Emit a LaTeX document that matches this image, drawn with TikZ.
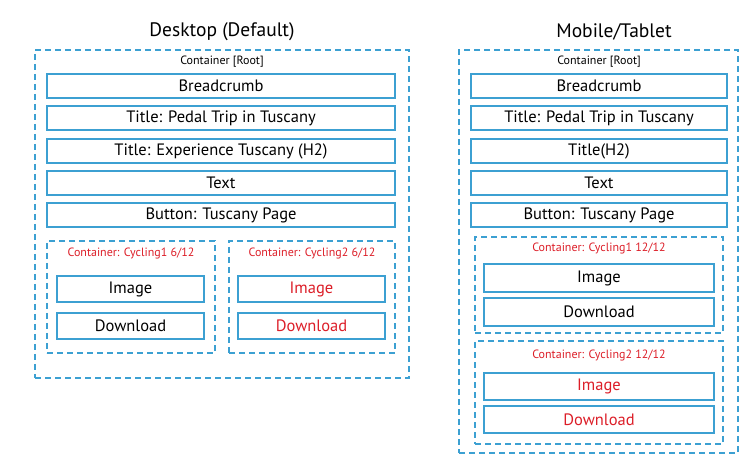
\documentclass[tikz,border=0pt]{standalone}
\usepackage{fontspec}
\setmainfont{PT Sans}
\begin{document}
\begin{tikzpicture}[x=1pt,y=-1pt,
  blu/.style={draw={rgb,255:red,60;green,160;blue,210}},
  box/.style={blu,line width=1.3pt,rectangle,inner sep=0pt,font=\fontsize{16.5}{16.5}\selectfont},
  dbox/.style={blu,line width=1.3pt,dash pattern=on 6pt off 4pt,rectangle,inner sep=0pt},
  lbl/.style={font=\fontsize{12}{12}\selectfont},
  red/.style={text={rgb,255:red,220;green,30;blue,40}},
  ttl/.style={font=\fontsize{19.5}{19.5}\selectfont}]
\useasboundingbox (0,0) rectangle (750,465);
% Desktop
\node[ttl] (t1) at (222,32) {Desktop (Default)};
\node[dbox,minimum width=374pt,minimum height=328pt] (r1) at (222,214) {};
\node[lbl] (r1l) at (222,62) {Container [Root]};
\node[box,minimum width=348pt,minimum height=24pt] (d1) at (221,86) {Breadcrumb};
\node[box,minimum width=348pt,minimum height=24pt] (d2) at (221,118) {Title: Pedal Trip in Tuscany};
\node[box,minimum width=348pt,minimum height=24pt] (d3) at (221,151) {Title: Experience Tuscany (H2)};
\node[box,minimum width=348pt,minimum height=24pt] (d4) at (221,183) {Text};
\node[box,minimum width=348pt,minimum height=24pt] (d5) at (221,215) {Button: Tuscany Page};
\node[dbox,minimum width=168pt,minimum height=112pt] (c1) at (131,297) {};
\node[lbl,red] (c1l) at (131,254) {Container: Cycling1 6/12};
\node[box,minimum width=147pt,minimum height=26pt] (i1) at (130.5,289) {Image};
\node[box,minimum width=147pt,minimum height=26pt] (w1) at (130.5,326) {Download};
\node[dbox,minimum width=166pt,minimum height=112pt] (c2) at (312,297) {};
\node[lbl,red] (c2l) at (312,254) {Container: Cycling2 6/12};
\node[box,red,minimum width=147pt,minimum height=26pt] (i2) at (311.5,289) {Image};
\node[box,red,minimum width=147pt,minimum height=26pt] (w2) at (311.5,326) {Download};
% Mobile
\node[ttl] (t2) at (614,32) {Mobile/Tablet};
\node[dbox,minimum width=279pt,minimum height=403pt] (r2) at (598.5,251.5) {};
\node[lbl] (r2l) at (599,62) {Container [Root]};
\node[box,minimum width=256pt,minimum height=24pt] (m1) at (599,86) {Breadcrumb};
\node[box,minimum width=256pt,minimum height=24pt] (m2) at (599,118) {Title: Pedal Trip in Tuscany};
\node[box,minimum width=256pt,minimum height=24pt] (m3) at (599,151) {Title(H2)};
\node[box,minimum width=256pt,minimum height=24pt] (m4) at (599,183) {Text};
\node[box,minimum width=256pt,minimum height=24pt] (m5) at (599,215) {Button: Tuscany Page};
\node[dbox,minimum width=248pt,minimum height=96pt] (mc1) at (599,285) {};
\node[lbl,red] (mc1l) at (599,249) {Container: Cycling1 12/12};
\node[box,minimum width=230pt,minimum height=28pt] (mi1) at (599,278) {Image};
\node[box,minimum width=230pt,minimum height=28pt] (mw1) at (599,312) {Download};
\node[dbox,minimum width=248pt,minimum height=103pt] (mc2) at (599,392.5) {};
\node[lbl,red] (mc2l) at (599,355) {Container: Cycling2 12/12};
\node[box,red,minimum width=230pt,minimum height=27pt] (mi2) at (599,386.5) {Image};
\node[box,red,minimum width=230pt,minimum height=27pt] (mw2) at (599,419.5) {Download};
\end{tikzpicture}
\end{document}
